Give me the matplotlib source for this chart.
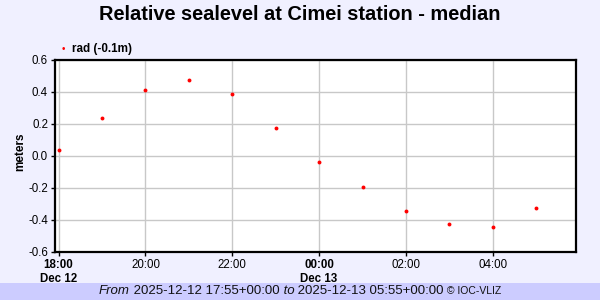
import datetime as dt

import matplotlib
matplotlib.use('agg')
from matplotlib import pyplot as plt
from matplotlib.offsetbox import TextArea, HPacker, AnchoredOffsetbox


# hourly medians
hours = ['2025-12-12 18:00', '2025-12-12 19:00', '2025-12-12 20:00', '2025-12-12 21:00',
         '2025-12-12 22:00', '2025-12-12 23:00', '2025-12-13 00:00', '2025-12-13 01:00',
         '2025-12-13 02:00', '2025-12-13 03:00', '2025-12-13 04:00', '2025-12-13 05:00']
rad = [0.04, 0.235, 0.41, 0.475, 0.387, 0.173, -0.037, -0.194, -0.346, -0.427, -0.446, -0.327]

x_start = '2025-12-12 17:55'
x_end = '2025-12-13 05:55'
tick_labels = ['18:00\nDec 12', '20:00', '22:00', '00:00\nDec 13', '02:00', '04:00']
bold_ticks = [0, 3]

fmt = '%Y-%m-%d %H:%M'
times = [dt.datetime.strptime(h, fmt) for h in hours]
t0 = dt.datetime.strptime(x_start, fmt)
t1 = dt.datetime.strptime(x_end, fmt)

plt.rc('font', family=['Liberation Sans', 'DejaVu Sans'])

bg = '#F0F0FF'
fig = plt.figure(figsize=(6, 3), dpi=100, facecolor=bg)
ax = fig.add_axes([55 / 600, 1 - 252 / 300, 521 / 600, 192 / 300])

ax.plot(times, rad, linestyle='none', marker='o', markersize=2.8,
        color='#FF0000', markeredgewidth=0)

ax.set_xlim(t0, t1)
ax.set_ylim(-0.6, 0.6)
ax.set_yticks([-0.6, -0.4, -0.2, 0.0, 0.2, 0.4, 0.6])
ax.set_yticklabels(['-0.6', '-0.4', '-0.2', '0.0', '0.2', '0.4', '0.6'])

tick_times = [dt.datetime(2025, 12, 12, 18) + dt.timedelta(hours=2 * i) for i in range(6)]
ax.set_xticks(tick_times)
ax.set_xticklabels(tick_labels)
for i, lab in enumerate(ax.get_xticklabels()):
    if i in bold_ticks:
        lab.set_fontweight('bold')

ax.tick_params(labelsize=8.3, length=3, width=1, color='black', pad=2)
ax.grid(True, color='#C8C8C8', linewidth=1)
ax.set_axisbelow(True)
for s in ax.spines.values():
    s.set_linewidth(1.6)

fig.text(20 / 600, 1 - 152 / 300, 'meters', rotation=90, fontsize=8.5,
         fontweight='bold', ha='center', va='center')

fig.text(0.5, 1 - 15 / 300, 'Relative sealevel at Cimei station - median',
         ha='center', va='center', fontsize=14.4, fontweight='bold')

# legend
fig.text(63 / 600, 1 - 49.5 / 300, '\u2022', color='#FF0000', fontsize=7, ha='center', va='center')
fig.text(72 / 600, 1 - 49 / 300, 'rad (-0.1m)', fontsize=8.4, fontweight='bold', va='center')

# footer band
fig.patches.append(plt.Rectangle((0, 0), 1, 17 / 300, transform=fig.transFigure,
                                 facecolor='#CCCCFF', edgecolor='none', zorder=0))
parts = [('From', 'italic', 9.5), (' 2025-12-12 17:55+00:00', 'normal', 9.5),
         (' to', 'italic', 9.5), (' 2025-12-13 05:55+00:00', 'normal', 9.5),
         (' \u00a9 IOC-VLIZ', 'normal', 7.5)]
areas = [TextArea(t, textprops=dict(fontstyle=st, fontsize=fs, color='#111111'))
         for t, st, fs in parts]
box = HPacker(children=areas, align='baseline', pad=0, sep=0)
anch = AnchoredOffsetbox(loc='center', child=box, frameon=False,
                         bbox_to_anchor=(0.5, 8.5 / 300), bbox_transform=fig.transFigure,
                         borderpad=0, pad=0)
fig.add_artist(anch)

fig.savefig('out.png', dpi=100, facecolor=bg)
